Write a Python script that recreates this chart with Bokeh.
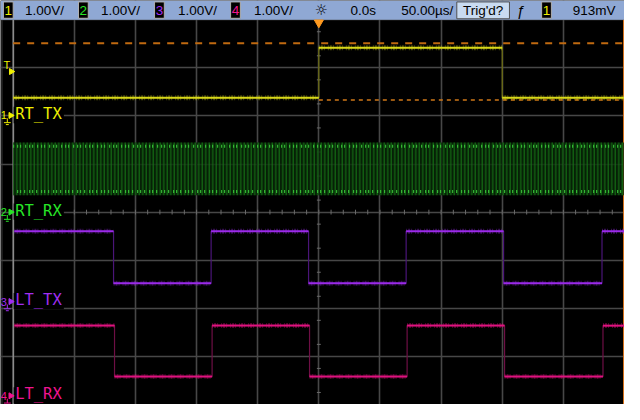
import numpy as np
from bokeh.plotting import figure
from bokeh.models import Range1d, Grid, FixedTicker
from bokeh.core.properties import value
from bokeh.embed import file_html
from bokeh.resources import INLINE

# 时基 / 通道设置
time_per_div = 50.0          # us/div
div_times = [-250, -200, -150, -100, -50, 0, 50, 100, 150, 200, 250]
div_levels = [-4, -3, -2, -1, 0, 1, 2, 3, 4]
channels = ["1", "2", "3", "4"]
ch_names = ["RT_TX", "RT_RX", "LT_TX", "LT_RX"]
ch_colors = ["#f0f000", "#27e627", "#a12ef2", "#f01490"]
ch_trace = ["#d8d81a", "#1f9a1f", "#9a2ae8", "#e0127f"]
ch_dim = ["#6e6e10", "#0d3a0d", "#4a1578", "#6e0f45"]
ch_ground = [2.01, 0.0, -1.86, -3.82]     # 地线位置 (div)
volts_per_div = [1.0, 1.0, 1.0, 1.0]
scale_texts = ["1.00V/", "1.00V/", "1.00V/", "1.00V/"]

# 通道1 RT_TX (us, V)
ch1_t = [-250.0, 0.0, 150.0, 250.0]
ch1_v = [0.37, 1.41, 0.37, 0.37]

# 通道2 RT_RX 包络 (us, V)
ch2_t = [-250.0, 250.0]
ch2_top = [1.45, 1.45]
ch2_bot = [0.35, 0.35]
ch2_tip_hi = [1.37, 1.37]
ch2_tip_lo = [0.43, 0.43]

# 通道3 LT_TX
ch3_t = [-249.0, -167.9, -88.1, -8.4, 71.4, 151.1, 231.6, 250.0]
ch3_v = [1.46, 0.38, 1.46, 0.38, 1.46, 0.38, 1.46, 1.46]

# 通道4 LT_RX
ch4_t = [-249.0, -167.1, -87.3, -7.6, 72.2, 151.9, 232.4, 250.0]
ch4_v = [1.46, 0.40, 1.46, 0.40, 1.46, 0.40, 1.46, 1.46]

# 光标 (通道1, V)
cursor_v = [1.50, 0.32]
cursor_start = [-250.0, 0.0]
trig_level = 0.913


def sx(px):
    return (px - 326.5) * time_per_div / 62.7


def sy(py):
    return (220.0 - py) / 50.0


x_lo = sx(0)
p = figure(width=624, height=404, x_range=Range1d(x_lo, 250), y_range=Range1d(-4, 4.4),
           x_axis_type=None, y_axis_type=None, toolbar_location=None,
           output_backend="svg", min_border=0,
           background_fill_color="black", border_fill_color="black",
           outline_line_color=None)

# 网格
p.add_layout(Grid(dimension=0, ticker=FixedTicker(ticks=div_times),
                  grid_line_color="#474747", grid_line_width=1.6))
p.add_layout(Grid(dimension=1, ticker=FixedTicker(ticks=div_levels),
                  grid_line_color="#474747", grid_line_width=1.6))

# 中心刻度
hx = np.arange(-250, 251, 10)
p.segment(x0=hx, x1=hx, y0=-0.05, y1=0.05, line_color="#6a6a6a", line_width=1)
vy = np.arange(-3.75, 4, 0.5)
p.segment(x0=-1.6, x1=1.6, y0=vy, y1=vy, line_color="#6a6a6a", line_width=1)

# 左边框
p.segment(x0=-250, x1=-250, y0=-4, y1=4, line_color="#a0a0a0", line_width=1.2)
p.segment(x0=sx(1.5), x1=sx(1.5), y0=-4, y1=4, line_color="#3c3c3c", line_width=1)
p.segment(x0=sx(639), x1=sx(639), y0=-4, y1=4, line_color="#d8731c", line_width=1)

# 光标虚线
y_c = [v / volts_per_div[0] + ch_ground[0] for v in cursor_v]
p.segment(x0=cursor_start[0], x1=250, y0=y_c[0], y1=y_c[0],
          line_color="#c06a10", line_width=2, line_dash="7 7")
p.segment(x0=cursor_start[1], x1=250, y0=y_c[1], y1=y_c[1],
          line_color="#d07818", line_width=1.5, line_dash="4 4")

# 通道2: 密集振荡
g = ch_ground[1]
p.varea(x=ch2_t, y1=[v + g for v in ch2_bot], y2=[v + g for v in ch2_top],
        fill_color="#072807", fill_alpha=0.8,
        hatch_pattern="vertical_line", hatch_color="#167816",
        hatch_scale=3.5, hatch_weight=1)
p.line(ch2_t, [v + g for v in ch2_tip_hi], line_color="#3ccc3c",
       line_width=3, line_dash="1 3 1 2 1 4")
p.line(ch2_t, [v + g for v in ch2_tip_lo], line_color="#3ccc3c",
       line_width=3, line_dash="1 4 1 2 1 3", line_dash_offset=1)


def draw_trace(t, v, k):
    y = [val / volts_per_div[k] + ch_ground[k] for val in v]
    p.step(t, y, mode="after", line_color=ch_dim[k], line_width=1.2)
    p.segment(x0=t[:-1], x1=t[1:], y0=y[:-1], y1=y[:-1],
              line_color=ch_trace[k], line_width=5, line_alpha=0.35,
              line_dash="1 1 2 1 1 3")
    p.segment(x0=t[:-1], x1=t[1:], y0=y[:-1], y1=y[:-1],
              line_color=ch_trace[k], line_width=2)


draw_trace(ch1_t, ch1_v, 0)
draw_trace(ch3_t, ch3_v, 2)
draw_trace(ch4_t, ch4_v, 3)

# 通道标记
mono = value("DejaVu Sans Mono")
sans = value("Liberation Sans")
for k in range(4):
    gy = ch_ground[k]
    c = ch_colors[k]
    p.quad(left=sx(13.5), right=sx(65), bottom=gy - 0.16, top=gy + 0.18,
           fill_color="black", line_color=None)
    p.text(x=[sx(15)], y=[gy + 0.03], text=[ch_names[k]], text_color=c,
           text_font=mono, text_font_size="15.5px", text_baseline="middle")
    p.text(x=[sx(3.5)], y=[gy], text=[channels[k]], text_color=c,
           text_font=sans, text_font_size="11px", text_baseline="middle", text_align="center")
    p.scatter([sx(10.5)], [gy], marker="triangle", angle=-np.pi / 2, size=6,
              fill_color=c, line_color=c)
    p.segment(x0=sx(7), x1=sx(7), y0=gy - 0.06, y1=gy - 0.15, line_color=c, line_width=1)
    p.segment(x0=sx(3.5), x1=sx(10.5), y0=gy - 0.15, y1=gy - 0.15, line_color=c, line_width=1)
    p.segment(x0=sx(5.5), x1=sx(8.5), y0=gy - 0.19, y1=gy - 0.19, line_color=c, line_width=1)

# 触发电平标记
ty = trig_level / volts_per_div[0] + ch_ground[0]
p.text(x=[sx(6.5)], y=[ty + 0.14], text=["T"], text_color=ch_colors[0],
       text_font=sans, text_font_size="11px", text_baseline="middle", text_align="center")
p.scatter([sx(11)], [ty], marker="triangle", angle=-np.pi / 2, size=6,
          fill_color=ch_colors[0], line_color=ch_colors[0])

# 顶部状态栏
p.quad(left=x_lo, right=250, bottom=4.0, top=4.4, fill_color="#8fa8d4", line_color=None)
p.scatter([0], [sy(23)], marker="inverted_triangle", size=9,
          fill_color="#ff9a20", line_color="#ff9a20")
box_px = [3, 80, 158, 236]
txt_px = [25, 103, 182, 260]
for k in range(4):
    p.quad(left=sx(box_px[k]), right=sx(box_px[k] + 10), bottom=sy(18.5), top=sy(1.5),
           fill_color="black", line_color="#b0b0b0", line_width=1)
    p.text(x=[sx(box_px[k] + 5)], y=[sy(10.5)], text=[channels[k]], text_color=ch_colors[k],
           text_font=sans, text_font_size="13.5px", text_baseline="middle", text_align="center")
    p.text(x=[sx(txt_px[k])], y=[sy(10.5)], text=[scale_texts[k]], text_color="black",
           text_font=sans, text_font_size="13.5px", text_baseline="middle")

p.text(x=[sx(329)], y=[sy(10)], text=["☼"], text_color="black",
       text_font=value("DejaVu Sans"), text_font_size="15px",
       text_baseline="middle", text_align="center")
p.text(x=[sx(359)], y=[sy(10.5)], text=["0.0s"], text_color="black",
       text_font=sans, text_font_size="13.5px", text_baseline="middle")
p.text(x=[sx(411)], y=[sy(10.5)], text=["50.00µs/"], text_color="black",
       text_font=sans, text_font_size="13.5px", text_baseline="middle")
p.quad(left=sx(468), right=sx(522), bottom=sy(19), top=sy(1.5),
       fill_color="#c9dbf1", line_color="#505050", line_width=1)
p.text(x=[sx(495)], y=[sy(10.5)], text=["Trig'd?"], text_color="black",
       text_font=sans, text_font_size="13.5px", text_baseline="middle", text_align="center")
p.text(x=[sx(534)], y=[sy(10.5)], text=["ƒ"], text_color="black",
       text_font=sans, text_font_size="15px", text_baseline="middle", text_align="center")
p.quad(left=sx(555), right=sx(565), bottom=sy(18.5), top=sy(1.5),
       fill_color="black", line_color="#b0b0b0", line_width=1)
p.text(x=[sx(560)], y=[sy(10.5)], text=["1"], text_color=ch_colors[0],
       text_font=sans, text_font_size="13.5px", text_baseline="middle", text_align="center")
p.text(x=[sx(587)], y=[sy(10.5)], text=["913mV"], text_color="black",
       text_font=sans, text_font_size="13.5px", text_baseline="middle")

open("out.html", "w").write(file_html(p, INLINE))
